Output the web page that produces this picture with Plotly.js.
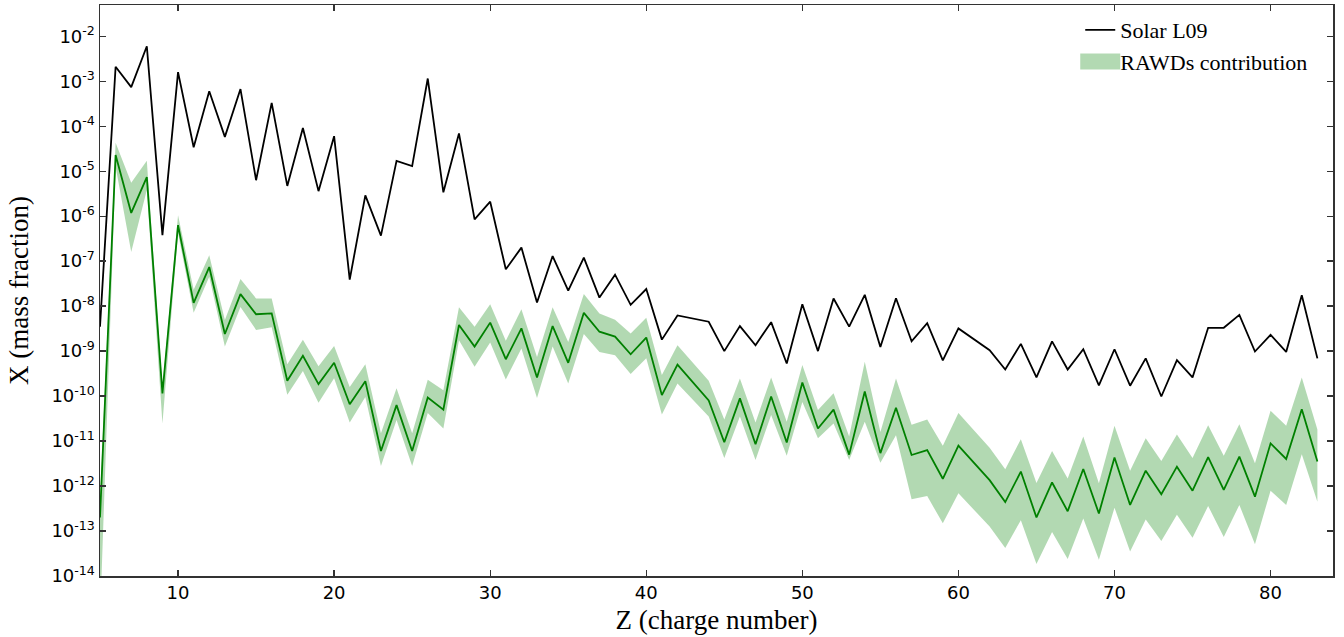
<!DOCTYPE html>
<html>
<head>
<meta charset="utf-8">
<script src="https://cdn.plot.ly/plotly-3.0.1.min.js"></script>
<style>
  html, body { margin: 0; padding: 0; background: #fff; }
  #chart { width: 1344px; height: 637px; }
</style>
</head>
<body>
<div id="chart"></div>
<script>
// Charge number Z (Tc=43 and Pm=61 absent)
const Z = [5,6,7,8,9,10,11,12,13,14,15,16,17,18,19,20,21,22,23,24,25,26,27,28,29,30,
  31,32,33,34,35,36,37,38,39,40,41,42,44,45,46,47,48,49,50,51,52,53,54,55,56,57,58,59,60,
  62,63,64,65,66,67,68,69,70,71,72,73,74,75,76,77,78,79,80,81,82,83];

// Solar L09 mass fractions
const solarL09 = [3.5e-9,2.1e-3,7.4e-4,6.0e-3,3.8e-7,1.6e-3,3.4e-5,6.0e-4,5.8e-5,6.7e-4,6.3e-6,3.3e-4,
  4.7e-6,9.1e-5,3.6e-6,6.0e-5,3.9e-8,2.9e-6,3.7e-7,1.7e-5,1.3e-5,1.15e-3,3.4e-6,6.9e-5,8.5e-7,2.1e-6,
  6.6e-8,2.0e-7,1.2e-8,1.3e-7,2.2e-8,1.2e-7,1.55e-8,5.0e-8,1.07e-8,2.4e-8,1.8e-9,6.2e-9,
  4.5e-9,1.0e-9,3.6e-9,1.35e-9,4.4e-9,5.3e-10,1.1e-8,1.0e-9,1.48e-8,3.5e-9,1.78e-8,1.23e-9,1.5e-8,
  1.65e-9,4.2e-9,6.2e-10,3.2e-9,
  1.05e-9,3.9e-10,1.45e-9,2.6e-10,1.65e-9,3.9e-10,1.1e-9,1.74e-10,1.1e-9,1.7e-10,6.9e-10,9.8e-11,
  6.3e-10,2.6e-10,3.3e-9,3.3e-9,6.4e-9,9.8e-10,2.3e-9,9.6e-10,1.75e-8,6.9e-10];

// RAWDs contribution (central value)
const rawdMid = [2.0e-13,2.3e-5,1.18e-6,7.4e-6,1.15e-10,6.3e-7,1.18e-8,7.4e-8,2.4e-9,1.85e-8,6.6e-9,6.9e-9,
  2.2e-10,7.9e-10,1.85e-10,5.5e-10,6.6e-11,2.15e-10,6.0e-12,6.3e-11,6.0e-12,9.3e-11,5.0e-11,3.8e-9,1.26e-9,4.3e-9,
  6.6e-10,3.2e-9,2.6e-10,3.6e-9,5.5e-10,7.1e-9,2.7e-9,2.1e-9,8.5e-10,2.0e-9,1.05e-10,5.0e-10,
  8.0e-11,9.4e-12,8.9e-11,8.5e-12,9.8e-11,9.3e-12,2.0e-10,1.9e-11,5.0e-11,5.0e-12,1.26e-10,5.4e-12,5.5e-11,
  4.9e-12,6.3e-12,1.45e-12,7.9e-12,
  1.35e-12,4.4e-13,2.1e-12,2.0e-13,1.2e-12,2.75e-13,2.4e-12,2.45e-13,4.3e-12,3.8e-13,2.2e-12,6.6e-13,
  2.7e-12,7.9e-13,4.4e-12,8.2e-13,4.5e-12,5.8e-13,8.9e-12,4.0e-12,5.1e-11,3.5e-12];

// RAWDs contribution band, upper edge
const rawdHigh = [5.0e-13,4.3e-5,5.5e-6,1.7e-5,1.6e-10,1.05e-6,2.3e-8,1.35e-7,4.9e-9,4.0e-8,1.48e-8,1.48e-8,
  5.1e-10,1.8e-9,4.6e-10,1.3e-9,1.6e-10,5.1e-10,1.5e-11,1.5e-10,1.5e-11,2.3e-10,1.35e-10,9.5e-9,3.5e-9,1.1e-8,
  1.7e-9,8.5e-9,7.4e-10,9.5e-9,1.6e-9,1.86e-8,6.9e-9,5.0e-9,2.45e-9,5.5e-9,2.95e-10,1.35e-9,
  2.2e-10,3.0e-11,2.45e-10,2.6e-11,2.6e-10,2.7e-11,4.9e-10,4.9e-11,1.15e-10,1.26e-11,5.8e-10,1.6e-11,2.45e-10,
  2.3e-11,3.0e-11,7.9e-12,4.2e-11,
  7.1e-12,2.35e-12,1.1e-11,1.17e-12,6.0e-12,1.48e-12,1.26e-11,1.15e-12,2.2e-11,2.2e-12,1.15e-11,3.6e-12,
  1.4e-11,4.2e-12,2.25e-11,4.7e-12,2.35e-11,3.2e-12,4.7e-11,2.2e-11,2.6e-10,1.8e-11];

// RAWDs contribution band, lower edge
const rawdLow = [1.0e-15,1.26e-5,1.6e-7,3.8e-6,2.45e-11,4.2e-7,7.1e-9,4.5e-8,1.26e-9,9.6e-9,2.95e-9,3.4e-9,
  1.07e-10,3.6e-10,7.1e-11,2.5e-10,2.6e-11,9.5e-11,2.8e-12,2.95e-11,2.8e-12,4.2e-11,1.9e-11,1.74e-9,4.5e-10,1.55e-9,
  2.35e-10,1.15e-9,9.1e-11,1.26e-9,1.9e-10,2.4e-9,9.5e-10,8.1e-10,3.1e-10,6.9e-10,3.9e-11,1.9e-10,
  3.5e-11,4.2e-12,3.5e-11,3.8e-12,3.8e-11,4.7e-12,7.4e-11,1.15e-11,2.45e-11,3.8e-12,2.7e-11,3.3e-12,1.35e-11,
  5.1e-13,6.0e-13,1.48e-13,6.9e-13,
  1.26e-13,4.2e-14,1.74e-13,1.86e-14,9.5e-14,2.4e-14,1.9e-13,2.3e-14,3.3e-13,3.5e-14,1.8e-13,6.0e-14,
  2.3e-13,7.1e-14,3.6e-13,7.4e-14,3.8e-13,5.1e-14,7.9e-13,3.8e-13,5.1e-12,4.5e-13];

// Axis ticks
const xTicks = [10,20,30,40,50,60,70,80];
const yTickVals = [1e-14,1e-13,1e-12,1e-11,1e-10,1e-9,1e-8,1e-7,1e-6,1e-5,1e-4,1e-3,1e-2];
const yTickText = ['10<sup>-14</sup>','10<sup>-13</sup>','10<sup>-12</sup>','10<sup>-11</sup>','10<sup>-10</sup>',
  '10<sup>-9</sup>','10<sup>-8</sup>','10<sup>-7</sup>','10<sup>-6</sup>','10<sup>-5</sup>','10<sup>-4</sup>',
  '10<sup>-3</sup>','10<sup>-2</sup>'];

const seriesNames = ['Solar L09', 'RAWDs contribution'];

const traces = [
  {
    x: Z, y: solarL09, type: 'scatter', mode: 'lines',
    line: {width: 1.8, color: '#000000'},
    name: seriesNames[0], legendrank: 1, showlegend: true
  },
  {
    x: Z, y: rawdLow, type: 'scatter', mode: 'lines',
    line: {width: 0, color: 'rgba(0,128,0,0)'},
    showlegend: false, hoverinfo: 'skip'
  },
  {
    x: Z, y: rawdHigh, type: 'scatter', mode: 'lines',
    line: {width: 0, color: 'rgba(0,128,0,0)'},
    fill: 'tonexty', fillcolor: 'rgba(0,128,0,0.3)',
    name: seriesNames[1], legendrank: 2
  },
  {
    x: Z, y: rawdMid, type: 'scatter', mode: 'lines',
    line: {width: 1.8, color: '#008000'},
    showlegend: false
  }
];

const tickFont = {family: 'DejaVu Sans, sans-serif', size: 18, color: '#000'};
const serifFont = {family: 'Liberation Serif, serif', size: 27, color: '#000'};

const layout = {
  width: 1344, height: 637,
  margin: {l: 100, r: 11, t: 5, b: 61},
  paper_bgcolor: '#fff', plot_bgcolor: '#fff',
  showlegend: true,
  legend: {
    x: 0.795, y: 0.993, xanchor: 'left', yanchor: 'top',
    traceorder: 'normal',
    bgcolor: 'rgba(0,0,0,0)', borderwidth: 0,
    font: {family: 'Liberation Serif, serif', size: 22, color: '#000'},
    tracegroupgap: 0
  },
  xaxis: {
    range: [5, 84],
    tickvals: xTicks,
    ticks: 'inside', ticklen: 6, tickcolor: '#333', tickwidth: 1.3,
    showline: true, linecolor: '#333', linewidth: 1.5, mirror: 'allticks',
    showgrid: false, zeroline: false,
    tickfont: tickFont,
    title: {text: 'Z (charge number)', font: serifFont, standoff: 8}
  },
  yaxis: {
    type: 'log',
    range: [-14, -1.305],
    tickvals: yTickVals, ticktext: yTickText,
    ticks: 'inside', ticklen: 6, tickcolor: '#333', tickwidth: 1.3,
    showline: true, linecolor: '#333', linewidth: 1.5, mirror: 'allticks',
    showgrid: false, zeroline: false,
    tickfont: tickFont,
    title: {text: 'X (mass fraction)', font: serifFont, standoff: 15}
  }
};

Plotly.newPlot('chart', traces, layout, {displayModeBar: false, staticPlot: true}).then(function (gd) {
  // enlarge the band's legend swatch into a filled rectangle, like the reference
  gd.querySelectorAll('.legend .legendfill path').forEach(function (p) {
    if (p.getAttribute('d')) p.setAttribute('d', 'M-2,-8h42v16h-42z');
  });
});
</script>
</body>
</html>
